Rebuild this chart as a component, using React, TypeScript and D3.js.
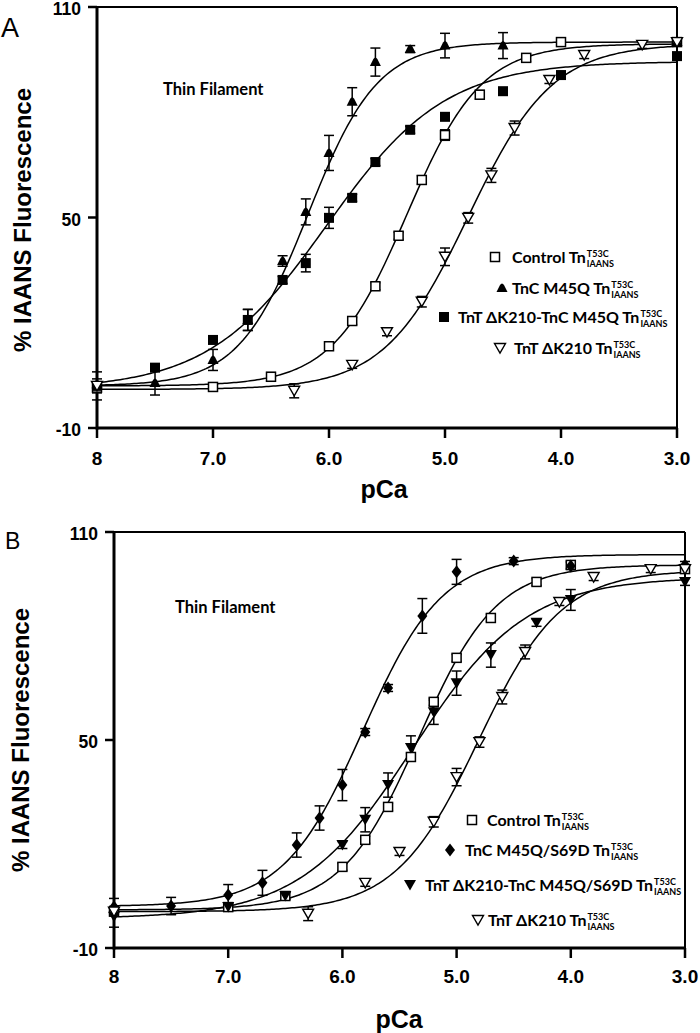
import React, { useLayoutEffect, useRef, useState } from 'react';
import * as d3 from 'd3';

// ---------- axes ----------
const tickPCa = [8, 7, 6, 5, 4, 3];
const tickPCaLabels = ['8', '7.0', '6.0', '5.0', '4.0', '3.0'];
const tickFluor = [-10, 50, 110];

// ---------- Panel A data ----------
const pCaCtrlA = [8, 7.0, 6.5, 6.0, 5.8, 5.6, 5.4, 5.2, 5.0, 4.7, 4.3, 4.0, 3.0];
const valCtrlA = [1.5, 1.7, 4.6, 13.3, 20.5, 30.4, 44.8, 60.7, 73.5, 85.0, 95.5, 100.0, 100.0];
const errCtrlA = [1.5, 1.0, 1.2, 1.0, 1.0, 1.0, 1.0, 1.2, 1.5, 1.2, 1.0, 1.0, 1.0];

const pCaTncA = [8, 7.5, 7.0, 6.7, 6.4, 6.2, 6.0, 5.8, 5.6, 5.3, 5.0, 4.5, 3.0];
const valTncA = [2.5, 2.8, 9.4, 20.8, 37.6, 51.6, 68.4, 83.0, 94.3, 98.0, 99.0, 99.0, 100.0];
const errTncA = [1.5, 3.4, 3.0, 3.0, 1.5, 3.7, 5.0, 4.0, 4.0, 1.0, 3.5, 3.7, 1.0];

const pCaDblA = [8, 7.5, 7.0, 6.7, 6.4, 6.2, 6.0, 5.8, 5.6, 5.3, 5.0, 4.5, 4.0, 3.0];
const valDblA = [2.0, 7.2, 15.1, 20.8, 32.2, 37.0, 49.9, 55.6, 65.8, 75.0, 78.7, 86.0, 90.6, 96.0];
const errDblA = [4.0, 1.0, 1.0, 3.0, 1.0, 2.5, 3.0, 1.0, 1.0, 1.0, 1.0, 1.0, 1.0, 1.0];

const pCaDelA = [8, 6.3, 5.8, 5.5, 5.2, 5.0, 4.8, 4.6, 4.4, 4.1, 3.8, 3.3, 3.0];
const valDelA = [2.0, 0.6, 8.0, 17.3, 26.0, 38.8, 49.9, 62.0, 75.5, 89.2, 96.3, 99.2, 100.0];
const errDelA = [1.0, 2.0, 1.0, 1.0, 1.5, 2.5, 1.5, 2.0, 2.0, 1.0, 1.0, 1.0, 1.0];

// Hill fit parameters: [bottom, top, pCa50, nH]
const fitCtrlA = [2, 99.5, 5.33, 1.35];
const fitTncA = [2, 100, 6.18, 1.45];
const fitDblA = [1, 94.5, 6.02, 0.85];
const fitDelA = [1, 99.5, 4.8, 1.2];

// ---------- Panel B data ----------
const pCaCtrlB = [8, 7.0, 6.5, 6.0, 5.8, 5.6, 5.4, 5.2, 5.0, 4.7, 4.3, 4.0, 3.0];
const valCtrlB = [0.5, 1.8, 5.0, 13.4, 21.2, 30.7, 45.1, 61.0, 73.7, 85.2, 95.6, 100.5, 99.3];
const errCtrlB = [1.0, 1.0, 1.0, 1.0, 1.0, 1.0, 1.0, 1.0, 1.0, 1.0, 1.0, 1.0, 1.0];

const pCaDiaB = [8, 7.5, 7.0, 6.7, 6.4, 6.2, 6.0, 5.8, 5.6, 5.3, 5.0, 4.5, 4.0, 3.0];
const valDiaB = [1.8, 2.1, 5.3, 8.8, 19.7, 27.5, 37.0, 52.3, 65.0, 85.8, 98.5, 101.6, 100.2, 100.5];
const errDiaB = [2.5, 2.5, 3.0, 3.6, 3.5, 3.5, 4.5, 1.0, 1.0, 5.0, 3.6, 1.0, 1.0, 1.0];

const pCaDblB = [8, 7.0, 6.5, 6.0, 5.8, 5.6, 5.4, 5.2, 5.0, 4.7, 4.3, 4.0, 3.0];
const valDblB = [-1.0, 1.8, 5.0, 19.7, 27.0, 37.0, 47.7, 58.0, 66.4, 74.5, 83.8, 90.4, 95.6];
const errDblB = [3.0, 1.0, 1.0, 1.0, 3.5, 3.5, 3.5, 3.5, 3.5, 3.5, 1.0, 3.0, 1.0];

const pCaDelB = [8, 6.3, 5.8, 5.5, 5.2, 5.0, 4.8, 4.6, 4.4, 4.1, 3.8, 3.3, 3.0];
const valDelB = [0.5, -0.1, 8.8, 17.7, 26.4, 39.3, 49.4, 62.4, 75.4, 89.8, 97.0, 99.3, 99.3];
const errDelB = [1.0, 2.0, 1.0, 1.0, 1.5, 2.5, 1.5, 2.0, 2.0, 1.0, 1.0, 1.0, 1.0];

const fitCtrlB = [1, 100.5, 5.33, 1.28];
const fitDiaB = [2, 103.5, 5.82, 1.25];
const fitDblB = [-1.5, 97, 5.38, 0.88];
const fitDelB = [0.5, 99, 4.81, 1.2];

// ---------- labels ----------
const legendA = ['Control Tn', 'TnC M45Q Tn', 'TnT \u0394K210-TnC M45Q Tn', 'TnT \u0394K210 Tn'];
const legendB = ['Control Tn', 'TnC M45Q/S69D Tn', 'TnT \u0394K210-TnC M45Q/S69D Tn', 'TnT \u0394K210 Tn'];
const supLabel = 'T53C';
const subLabel = 'IAANS';
const yTitle = '% IAANS Fluorescence';
const xTitle = 'pCa';
const noteText = 'Thin Filament';

const SANS = "'Liberation Sans', Arial, sans-serif";
const CAL = "Lato, 'Open Sans', sans-serif";

type Series = { pCa: number[]; val: number[]; err: number[]; fit: number[]; marker: string };

function Marker({ type, x, y }: { type: string; x: number; y: number }) {
  switch (type) {
    case 'openSquare':
      return <rect x={x - 4.5} y={y - 4.5} width={9} height={9} fill="#fff" stroke="#000" strokeWidth={1.5} />;
    case 'filledSquare':
      return <rect x={x - 5} y={y - 5} width={10} height={10} fill="#000" />;
    case 'filledDome':
      return (
        <path
          d={`M${x - 5.5},${y + 4}L${x + 5.5},${y + 4}L${x + 2},${y - 3}Q${x},${y - 6} ${x - 2},${y - 3}Z`}
          fill="#000"
        />
      );
    case 'openTriDown':
      return (
        <path
          d={`M${x - 5.5},${y - 4.5}L${x + 5.5},${y - 4.5}L${x},${y + 5}Z`}
          fill="#fff"
          stroke="#000"
          strokeWidth={1.4}
        />
      );
    case 'filledTriDown':
      return <path d={`M${x - 6},${y - 5}L${x + 6},${y - 5}L${x},${y + 5.5}Z`} fill="#000" />;
    case 'diamond':
      return <path d={`M${x},${y - 6.5}L${x + 5},${y}L${x},${y + 6.5}L${x - 5},${y}Z`} fill="#000" />;
    default:
      return null;
  }
}

function LegendLabel({ x, y, text }: { x: number; y: number; text: string }) {
  const ref = useRef<SVGTextElement>(null);
  const [w, setW] = useState(0);
  useLayoutEffect(() => {
    if (ref.current) setW(ref.current.getComputedTextLength());
  }, [text]);
  return (
    <g fontFamily={CAL} fontWeight="bold" fill="#000">
      <text ref={ref} x={x} y={y} fontSize={16}>
        {text}
      </text>
      <text x={x + w + 1} y={y - 6} fontSize={9}>
        {supLabel}
      </text>
      <text x={x + w + 1} y={y + 4} fontSize={9}>
        {subLabel}
      </text>
    </g>
  );
}

type PanelProps = {
  letter: string;
  letterPos: [number, number, number];
  x0: number;
  x1: number;
  yTop: number;
  yBot: number;
  series: Series[];
  legend: string[];
  legendPos: { mx: number; tx: number; y: number }[];
  notePos: [number, number];
  yTitlePos: [number, number];
  xTitlePos: [number, number];
  tickLabelY: number;
};

function Panel(p: PanelProps) {
  const x = d3.scaleLinear().domain([8, 3]).range([p.x0, p.x1]);
  const y = d3.scaleLinear().domain([-10, 110]).range([p.yBot, p.yTop]);
  const hill = (f: number[], pc: number) => f[0] + (f[1] - f[0]) / (1 + Math.pow(10, f[3] * (pc - f[2])));
  const samples = d3.range(8, 2.995, -0.02);
  const curve = (f: number[]) =>
    d3
      .line<number>()
      .x((d) => x(d))
      .y((d) => y(hill(f, d)))(samples) || '';
  return (
    <g>
      <text x={p.letterPos[0]} y={p.letterPos[1]} fontFamily={SANS} fontSize={p.letterPos[2]} fill="#000">
        {p.letter}
      </text>
      {/* frame */}
      <line x1={p.x0} x2={p.x1} y1={p.yTop} y2={p.yTop} stroke="#000" strokeWidth={2} />
      <line x1={p.x1} x2={p.x1} y1={p.yTop} y2={p.yBot} stroke="#000" strokeWidth={2} />
      <line x1={p.x0} x2={p.x1 + 1} y1={p.yBot} y2={p.yBot} stroke="#000" strokeWidth={3} />
      <line x1={p.x0} x2={p.x0} y1={p.yTop - 1} y2={p.yBot + 1.5} stroke="#000" strokeWidth={3} />
      {/* y ticks */}
      {tickFluor.map((t) => (
        <g key={'y' + t}>
          <line x1={p.x0 - 9} x2={p.x0} y1={y(t)} y2={y(t)} stroke="#000" strokeWidth={2.5} />
          <text
            x={p.x0 - 16}
            y={y(t) + 8}
            textAnchor="end"
            fontFamily={SANS}
            fontWeight="bold"
            fontSize={17.5}
            fill="#000"
          >
            {t}
          </text>
        </g>
      ))}
      {/* x ticks */}
      {tickPCa.map((t, i) => (
        <g key={'x' + t}>
          <line x1={x(t)} x2={x(t)} y1={p.yBot} y2={p.yBot + 10} stroke="#000" strokeWidth={2.5} />
          <text
            x={x(t)}
            y={p.tickLabelY}
            textAnchor="middle"
            fontFamily={SANS}
            fontWeight="bold"
            fontSize={19}
            fill="#000"
          >
            {tickPCaLabels[i]}
          </text>
        </g>
      ))}
      {/* titles */}
      <text
        transform={`translate(${p.yTitlePos[0]},${p.yTitlePos[1]}) rotate(-90)`}
        textAnchor="middle"
        fontFamily={SANS}
        fontWeight="bold"
        fontSize={24}
        fill="#000"
      >
        {yTitle}
      </text>
      <text
        x={p.xTitlePos[0]}
        y={p.xTitlePos[1]}
        textAnchor="middle"
        fontFamily={SANS}
        fontWeight="bold"
        fontSize={25}
        fill="#000"
      >
        {xTitle}
      </text>
      <text x={p.notePos[0]} y={p.notePos[1]} fontFamily={CAL} fontWeight="bold" fontSize={16.5} fill="#000">
        {noteText}
      </text>
      {/* curves */}
      {p.series.map((s, i) => (
        <path key={'c' + i} d={curve(s.fit)} fill="none" stroke="#000" strokeWidth={1.5} />
      ))}
      {/* error bars */}
      {p.series.map((s, i) => (
        <g key={'e' + i} stroke="#000" strokeWidth={1.5}>
          {s.pCa.map((pc, j) => {
            const cx = x(pc);
            const lo = y(s.val[j] - s.err[j]);
            const hi = y(s.val[j] + s.err[j]);
            return (
              <g key={j}>
                <line x1={cx} x2={cx} y1={lo} y2={hi} />
                <line x1={cx - 5} x2={cx + 5} y1={lo} y2={lo} />
                <line x1={cx - 5} x2={cx + 5} y1={hi} y2={hi} />
              </g>
            );
          })}
        </g>
      ))}
      {/* markers */}
      {p.series.map((s, i) => (
        <g key={'m' + i}>
          {s.pCa.map((pc, j) => (
            <Marker key={j} type={s.marker} x={x(pc)} y={y(s.val[j])} />
          ))}
        </g>
      ))}
      {/* legend */}
      {p.legend.map((txt, i) => (
        <g key={'l' + i}>
          <Marker type={p.series[i].marker} x={p.legendPos[i].mx} y={p.legendPos[i].y - 6} />
          <LegendLabel x={p.legendPos[i].tx} y={p.legendPos[i].y} text={txt} />
        </g>
      ))}
    </g>
  );
}

export default function App() {
  const seriesA: Series[] = [
    { pCa: pCaCtrlA, val: valCtrlA, err: errCtrlA, fit: fitCtrlA, marker: 'openSquare' },
    { pCa: pCaTncA, val: valTncA, err: errTncA, fit: fitTncA, marker: 'filledDome' },
    { pCa: pCaDblA, val: valDblA, err: errDblA, fit: fitDblA, marker: 'filledSquare' },
    { pCa: pCaDelA, val: valDelA, err: errDelA, fit: fitDelA, marker: 'openTriDown' },
  ];
  const seriesB: Series[] = [
    { pCa: pCaCtrlB, val: valCtrlB, err: errCtrlB, fit: fitCtrlB, marker: 'openSquare' },
    { pCa: pCaDiaB, val: valDiaB, err: errDiaB, fit: fitDiaB, marker: 'diamond' },
    { pCa: pCaDblB, val: valDblB, err: errDblB, fit: fitDblB, marker: 'filledTriDown' },
    { pCa: pCaDelB, val: valDelB, err: errDelB, fit: fitDelB, marker: 'openTriDown' },
  ];
  return (
    <svg width={700} height={1033} style={{ position: 'absolute', left: 0, top: 0, background: '#fff' }}>
      <rect width={700} height={1033} fill="#fff" />
      <Panel
        letter="A"
        letterPos={[1, 37, 27]}
        x0={97}
        x1={677}
        yTop={7}
        yBot={428}
        series={seriesA}
        legend={legendA}
        legendPos={[
          { mx: 495, tx: 512, y: 263 },
          { mx: 502, tx: 512, y: 294 },
          { mx: 444, tx: 458, y: 323 },
          { mx: 500, tx: 514, y: 354 },
        ]}
        notePos={[163, 95]}
        yTitlePos={[31, 220]}
        xTitlePos={[384, 498]}
        tickLabelY={465}
      />
      <Panel
        letter="B"
        letterPos={[5, 549, 23]}
        x0={114}
        x1={685}
        yTop={532}
        yBot={948}
        series={seriesB}
        legend={legendB}
        legendPos={[
          { mx: 472, tx: 487, y: 826 },
          { mx: 450, tx: 465, y: 856 },
          { mx: 410, tx: 425, y: 891 },
          { mx: 478, tx: 488, y: 926 },
        ]}
        notePos={[175, 613]}
        yTitlePos={[29, 740]}
        xTitlePos={[399, 1028]}
        tickLabelY={983}
      />
    </svg>
  );
}
